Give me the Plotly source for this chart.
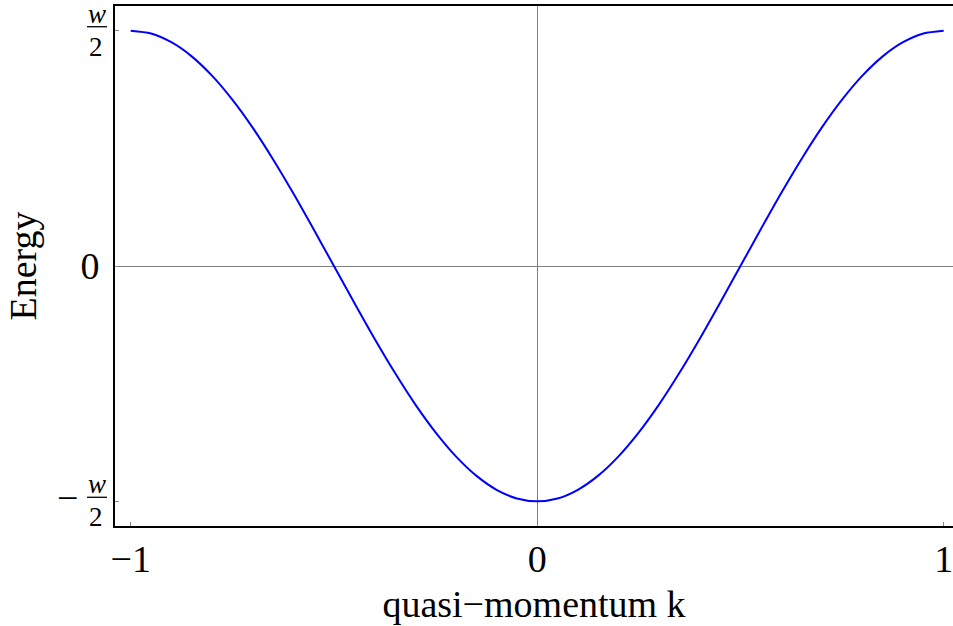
import plotly.graph_objects as go

# Band dispersion of a 1D tight-binding chain, energy in units of w/2
k_values = [-1.0, -0.95, -0.9, -0.85, -0.8, -0.75, -0.7, -0.65, -0.6, -0.55,
            -0.5, -0.45, -0.4, -0.35, -0.3, -0.25, -0.2, -0.15, -0.1, -0.05,
            0.0, 0.05, 0.1, 0.15, 0.2, 0.25, 0.3, 0.35, 0.4, 0.45,
            0.5, 0.55, 0.6, 0.65, 0.7, 0.75, 0.8, 0.85, 0.9, 0.95, 1.0]
energy = [1.0, 0.988, 0.951, 0.891, 0.809, 0.707, 0.588, 0.454, 0.309, 0.156,
          0.0, -0.156, -0.309, -0.454, -0.588, -0.707, -0.809, -0.891, -0.951, -0.988,
          -1.0, -0.988, -0.951, -0.891, -0.809, -0.707, -0.588, -0.454, -0.309, -0.156,
          0.0, 0.156, 0.309, 0.454, 0.588, 0.707, 0.809, 0.891, 0.951, 0.988, 1.0]

k_ticks = [-1, 0, 1]
k_tick_text = ["\u22121", "0", "1"]
energy_ticks = [-1, 0, 1]
energy_tick_text = ["", "0", ""]
# fractional labels +-w/2 drawn separately: (tick value, sign)
fraction_ticks = [(1, ""), (-1, "\u2212")]

FONT = "Liberation Serif, Times New Roman, serif"
BIG = 38
SMALL = 27

fig = go.Figure()
fig.add_trace(go.Scatter(
    x=k_values, y=energy, mode="lines",
    line=dict(color="#0000ff", width=2, shape="spline", smoothing=0.8),
    hoverinfo="skip", showlegend=False,
))

axis_common = dict(
    showgrid=False,
    zeroline=True, zerolinecolor="#7f7f7f", zerolinewidth=1,
    showline=True, linecolor="black", linewidth=2,
    ticks="inside", ticklen=4, tickwidth=1, tickcolor="#888888",
    tickfont=dict(family=FONT, size=BIG, color="black"),
    ticklabeloverflow="allow",
)

fig.update_layout(
    width=953, height=626,
    margin=dict(l=115, r=0, t=6, b=100),
    paper_bgcolor="white", plot_bgcolor="white",
    font=dict(family=FONT, size=BIG, color="black"),
    xaxis=dict(
        range=[-1.0386, 1.0229], tickvals=k_ticks, ticktext=k_tick_text,
        mirror=True, ticklabelstandoff=-2,
        title=dict(text="quasi\u2212momentum k", font=dict(family=FONT, size=BIG), standoff=12),
        **axis_common,
    ),
    yaxis=dict(
        range=[-1.105, 1.105], tickvals=energy_ticks, ticktext=energy_tick_text,
        mirror=False, ticklabelstandoff=6,
        title=dict(text="Energy", font=dict(family=FONT, size=BIG), standoff=32),
        **axis_common,
    ),
)

for val, sign in fraction_ticks:
    # numerator
    fig.add_annotation(xref="paper", yref="y", x=0, y=val, text="<i>w</i>",
                       showarrow=False, xanchor="center", yanchor="middle",
                       xshift=-18, yshift=17, font=dict(family=FONT, size=SMALL, color="black"))
    # denominator
    fig.add_annotation(xref="paper", yref="y", x=0, y=val, text="2",
                       showarrow=False, xanchor="center", yanchor="middle",
                       xshift=-19, yshift=-16, font=dict(family=FONT, size=SMALL, color="black"))
    # fraction bar
    fig.add_shape(type="line", xref="paper", yref="y",
                  xsizemode="pixel", xanchor=0, x0=-28, x1=-8,
                  ysizemode="pixel", yanchor=val, y0=4, y1=4,
                  line=dict(color="black", width=1.3))
    if sign:
        fig.add_annotation(xref="paper", yref="y", x=0, y=val, text=sign,
                           showarrow=False, xanchor="center", yanchor="middle",
                           xshift=-48, yshift=3, font=dict(family=FONT, size=BIG, color="black"))

fig.write_html("out.html")
